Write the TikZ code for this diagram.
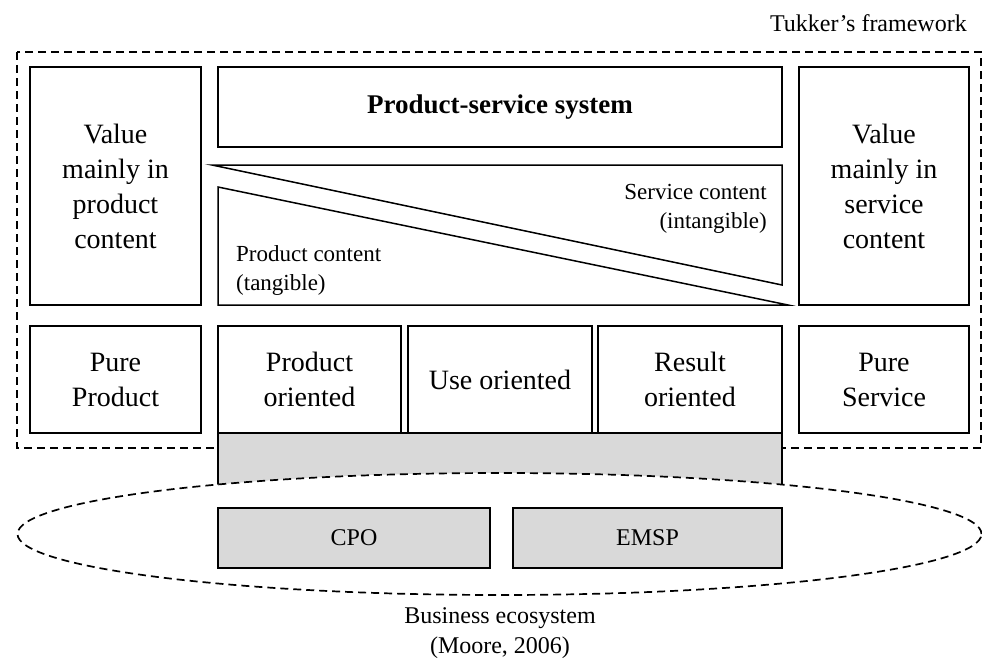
\documentclass[tikz,border=0pt]{standalone}
\usepackage{fontspec}
\setmainfont{Liberation Serif}
\usetikzlibrary{shapes.geometric}
\newcommand\fbig{\fontsize{28}{35}\selectfont}
\newcommand\fmid{\fontsize{24}{30}\selectfont}
\newcommand\fsml{\fontsize{23}{29}\selectfont}
\definecolor{boxgray}{HTML}{D9D9D9}
\begin{document}
\begin{tikzpicture}[x=1pt,y=-1pt,
  box/.style={draw, line width=1.5pt, inner sep=0pt, align=center, font=\fbig},
  graybox/.style={draw, line width=1.5pt, fill=boxgray, inner sep=0pt, align=center, font=\fmid},
  dashline/.style={line width=1.5pt, dash pattern=on 8pt off 5pt},
  lbl/.style={inner sep=0pt, font=\fmid}]
\useasboundingbox (0,0) rectangle (982,661);
% framework dashed boundary
\draw[dashline] (17,52) rectangle (981,448);
\node[lbl, anchor=base east] (tuk) at (967,32) {Tukker’s framework};
% top row
\node[box, minimum width=171pt, minimum height=238pt] (lp) at (115.5,186) {Value\\mainly in\\product\\content};
\node[box, minimum width=564pt, minimum height=80pt, font=\fontsize{27}{32}\selectfont\bfseries] (pss) at (500,107) {Product-service system};
\node[box, minimum width=170pt, minimum height=238pt] (rp) at (884,186) {Value\\mainly in\\service\\content};
% triangles
\draw[line width=1.5pt, line join=miter] (212,165) -- (782,165) -- (782,285) -- cycle;
\draw[line width=1.5pt, line join=miter] (218,187) -- (218,305) -- (788,305) -- cycle;
\node[inner sep=0pt, font=\fsml, align=right, anchor=base east] (sc) at (767,228) {Service content\\(intangible)};
\node[inner sep=0pt, font=\fsml, align=left, anchor=base west] (pc) at (236,290) {Product content\\(tangible)};
% bottom row
\node[box, minimum width=171pt, minimum height=107pt] (pp) at (115.5,379.5) {Pure\\Product};
\node[box, minimum width=183pt, minimum height=107pt] (po) at (309.5,379.5) {Product\\oriented};
\node[box, minimum width=184pt, minimum height=107pt] (uo) at (500,379.5) {Use oriented};
\node[box, minimum width=184pt, minimum height=107pt] (ro) at (690,379.5) {Result\\oriented};
\node[box, minimum width=170pt, minimum height=107pt] (ps) at (884,379.5) {Pure\\Service};
% gray bar
\draw[line width=1.5pt, fill=boxgray] (218,433) rectangle (782,505);
% ecosystem ellipse
\node[ellipse, draw, dashline, line width=1.7pt, fill=white, minimum width=964pt, minimum height=122pt, inner sep=0pt] (eco) at (499.5,534) {};
\node[graybox, minimum width=272pt, minimum height=60pt] (cpo) at (354,538) {CPO};
\node[graybox, minimum width=269pt, minimum height=60pt] (emsp) at (647.5,538) {EMSP};
\node[lbl, align=center, anchor=base] (be) at (500,653) {Business ecosystem\\(Moore, 2006)};
\end{tikzpicture}
\end{document}
